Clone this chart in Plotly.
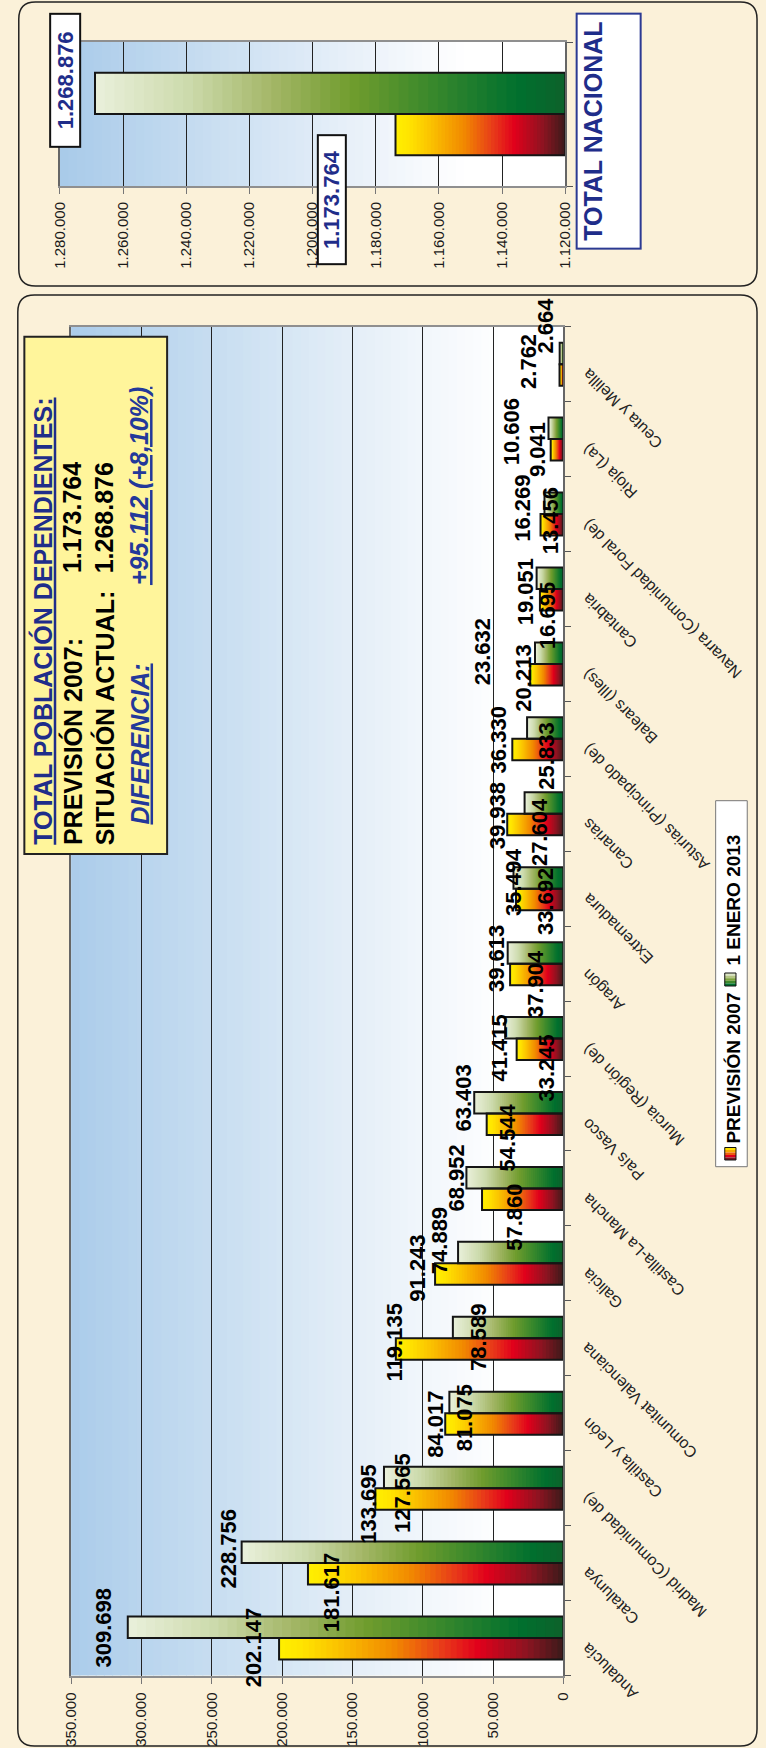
import plotly.graph_objects as go

# ---------------------------------------------------------------- data
REGIONS = [
    "Andalucía", "Catalunya", "Madrid (Comunidad de)", "Castilla y León",
    "Comunitat Valenciana", "Galicia", "Castilla-La Mancha", "País Vasco",
    "Murcia (Región de)", "Aragón", "Extremadura", "Canarias",
    "Asturias (Principado de)", "Balears (Illes)", "Cantabria",
    "Navarra (Comunidad Foral de)", "Rioja (La)", "Ceuta y Melilla",
]
PREVISION_2007 = [202147, 181617, 133695, 84017, 119135, 91243, 57860, 54544,
                  33245, 37904, 33692, 39938, 36330, 23632, 16695, 16269,
                  9041, 2762]
ENERO_2013 = [309698, 228756, 127565, 81075, 78589, 74889, 68952, 63403,
              41415, 39613, 35494, 27604, 25833, 20213, 19051, 13456,
              10606, 2664]

TOTAL_LABEL = "TOTAL NACIONAL"
TOTAL_PREVISION = 1173764
TOTAL_ACTUAL = 1268876

VALUE_TICKS = [0, 50000, 100000, 150000, 200000, 250000, 300000, 350000]
TOTAL_TICKS = [1120000, 1140000, 1160000, 1180000, 1200000, 1220000,
               1240000, 1260000, 1280000]
TOTAL_AXIS_MIN = 1120000

SERIES_NAMES = ["PREVISIÓN 2007", "1 ENERO 2013"]

# ---------------------------------------------------------------- styling
W, H = 766, 1748
FONT = "Liberation Sans, Arial, Helvetica, sans-serif"
PAGE_BG = "#FBF1D9"
NAVY = "#1F2D8A"
BLUE = "#23389A"

# where each bar label sits: right edge vs bar end (dx) and centre vs bar centre (dy), px
PREV_LABEL_DX = [-17, 32, 2, -1, 7, -9, 41, 29, 38, 34, 38, -1, -5, -39, 16, -9, -4, -22]
PREV_LABEL_DY = [-1, 18, 5, 0, -7, -6, 18, 13, 19, 10, 2, -9, -10, -23, 16, -16, 0, -13]
ENE_LABEL_DX = [-16, -5, 27, 24, 34, -10, -1, -2, 3, -2, 9, 23, 27, -3, -3, 14, -29, -6]
ENE_LABEL_DY = [0, -4, 15, 15, 10, -12, 0, -5, 20, 6, 4, 29, 28, 25, 14, 17, 4, -28]

# gradient stops, position measured from the bar base (0) to its end (1)
PREV_STOPS = [(0.0, "#3B1B1B"), (0.13, "#8C1421"), (0.30, "#E1001B"),
              (0.42, "#E8381A"), (0.60, "#F18A00"), (0.80, "#FBC400"),
              (0.92, "#FFE400"), (1.0, "#FFF000")]
ENE_STOPS = [(0.0, "#0D612B"), (0.10, "#00702E"), (0.30, "#3E8A2C"),
             (0.45, "#6F9C2D"), (0.62, "#A3B666"), (0.80, "#CCDAAB"),
             (1.0, "#EAF0DC")]
MAIN_BG_STOPS = [(0.0, "#ABCCEA"), (0.30, "#C8DEF1"), (0.55, "#E2EDF7"),
                 (0.75, "#F4F8FC"), (0.88, "#FFFFFF"), (1.0, "#FFFFFF")]
TOP_BG_STOPS = [(0.0, "#A8CAE9"), (0.30, "#C9DEF1"), (0.50, "#DFEBF7"),
                (0.65, "#F0F5FB"), (0.80, "#FFFFFF"), (1.0, "#FFFFFF")]

# plot areas in page pixels
MAIN_X0, MAIN_X1, MAIN_Y0, MAIN_Y1 = 63.5, 567.0, 326.7, 1675.5
TOP_X0, TOP_X1, TOP_Y0, TOP_Y1 = 52.0, 569.0, 42.0, 186.0
BAR_W = 0.287  # bar thickness in category units


def X(p):
    return p / W


def Y(p):
    return 1 - p / H


def hex2rgb(h):
    h = h.lstrip("#")
    return tuple(int(h[i:i + 2], 16) for i in (0, 2, 4))


def color_at(stops, t):
    for (t0, c0), (t1, c1) in zip(stops[:-1], stops[1:]):
        if t <= t1:
            f = 0 if t1 == t0 else (t - t0) / (t1 - t0)
            a, b = hex2rgb(c0), hex2rgb(c1)
            return "rgb(%d,%d,%d)" % tuple(round(a[k] + (b[k] - a[k]) * f) for k in range(3))
    return stops[-1][1]


def es_num(v):
    return f"{v:,}".replace(",", ".")


def gradient_bars(values, cats, stops, base0, offset, xa, ya, n=48):
    """Each bar is painted as overlapping slices running from a slice start to the bar end."""
    xs, ys, bases, cols = [], [], [], []
    for i in range(n):
        for v, c in zip(values, cats):
            start = base0 + (v - base0) * i / n
            xs.append(v - start)
            ys.append(c)
            bases.append(start)
            cols.append(color_at(stops, (i + 0.5) / n))
    return go.Bar(orientation="h", x=xs, y=ys, base=bases, offset=offset,
                  width=BAR_W, marker=dict(color=cols, line=dict(width=0)),
                  xaxis=xa, yaxis=ya, hoverinfo="skip", showlegend=False)


def outline_bars(values, cats, base0, offset, xa, ya, name):
    return go.Bar(orientation="h", x=[v - base0 for v in values], y=cats,
                  base=[base0] * len(values), offset=offset, width=BAR_W,
                  marker=dict(color="rgba(0,0,0,0)", line=dict(color="#151515", width=2)),
                  xaxis=xa, yaxis=ya, name=name, hoverinfo="skip", showlegend=False)


fig = go.Figure()

# main chart: regions
fig.add_trace(gradient_bars(PREVISION_2007, REGIONS, PREV_STOPS, 0, -BAR_W, "x", "y"))
fig.add_trace(gradient_bars(ENERO_2013, REGIONS, ENE_STOPS, 0, 0, "x", "y"))
fig.add_trace(outline_bars(PREVISION_2007, REGIONS, 0, -BAR_W, "x", "y", SERIES_NAMES[0]))
fig.add_trace(outline_bars(ENERO_2013, REGIONS, 0, 0, "x", "y", SERIES_NAMES[1]))

# upper chart: national total
fig.add_trace(gradient_bars([TOTAL_PREVISION], [TOTAL_LABEL], PREV_STOPS, TOTAL_AXIS_MIN, -BAR_W, "x2", "y2"))
fig.add_trace(gradient_bars([TOTAL_ACTUAL], [TOTAL_LABEL], ENE_STOPS, TOTAL_AXIS_MIN, 0, "x2", "y2"))
fig.add_trace(outline_bars([TOTAL_PREVISION], [TOTAL_LABEL], TOTAL_AXIS_MIN, -BAR_W, "x2", "y2", SERIES_NAMES[0]))
fig.add_trace(outline_bars([TOTAL_ACTUAL], [TOTAL_LABEL], TOTAL_AXIS_MIN, 0, "x2", "y2", SERIES_NAMES[1]))

shapes = []


def rounded_rect(x0, y0, x1, y1, r):
    rx, ry = r / W, r / H
    a, b, c, d = X(x0), Y(y0), X(x1), Y(y1)
    return (f"M {a + rx},{b} L {c - rx},{b} Q {c},{b} {c},{b - ry} "
            f"L {c},{d + ry} Q {c},{d} {c - rx},{d} L {a + rx},{d} "
            f"Q {a},{d} {a},{d + ry} L {a},{b - ry} Q {a},{b} {a + rx},{b} Z")


# rounded frames
for box in [(10, 2, 765, 286), (9, 295, 765, 1746)]:
    shapes.append(dict(type="path", path=rounded_rect(*box, 17), xref="paper", yref="paper",
                       line=dict(color="#222", width=1.5), fillcolor="rgba(0,0,0,0)", layer="below"))

# plot-area background gradients
NB = 60
for xa, ya, stops in [("x", "y", MAIN_BG_STOPS), ("x2", "y2", TOP_BG_STOPS)]:
    for i in range(NB):
        shapes.append(dict(type="rect", xref=f"{xa} domain", yref=f"{ya} domain",
                           x0=i / NB, x1=(i + 1) / NB + 0.002, y0=0, y1=1,
                           fillcolor=color_at(stops, (i + 0.5) / NB),
                           line=dict(width=0), layer="below"))

# summary box
shapes.append(dict(type="rect", xref="paper", yref="paper",
                   x0=X(15.7), x1=X(161.7), y0=Y(854), y1=Y(336.7),
                   fillcolor="#FFF59B", line=dict(color="#222", width=2), layer="above"))

# legend frame and swatches
shapes.append(dict(type="rect", xref="paper", yref="paper",
                   x0=X(722.7), x1=X(755), y0=Y(1166.7), y1=Y(800.7),
                   fillcolor="white", line=dict(color="#777", width=1), layer="above"))
for stops, (y0, y1) in [(PREV_STOPS, (1147.5, 1160)), (ENE_STOPS, (973, 986))]:
    k = 5
    for j in range(k):
        ya = y0 + (y1 - y0) * j / k
        yb = y0 + (y1 - y0) * (j + 1) / k
        shapes.append(dict(type="rect", xref="paper", yref="paper",
                           x0=X(732), x1=X(743.5), y0=Y(yb), y1=Y(ya),
                           fillcolor=color_at(stops, 1 - (j + 0.5) / k),
                           line=dict(width=0), layer="above"))
    shapes.append(dict(type="rect", xref="paper", yref="paper",
                       x0=X(732), x1=X(743.5), y0=Y(y1), y1=Y(y0),
                       fillcolor="rgba(0,0,0,0)", line=dict(color="#111", width=1), layer="above"))

ann = []

# region names
for c in REGIONS:
    ann.append(dict(x=0, y=c, xref="x", yref="y", text=c, textangle=-135,
                    xanchor="left", yanchor="top", xshift=13, yshift=1,
                    showarrow=False, font=dict(family=FONT, size=16, color="#222")))

# value labels next to each bar
band = (MAIN_Y1 - MAIN_Y0) / len(REGIONS)
half = band * BAR_W / 2
EDGE = 6
for i, c in enumerate(REGIONS):
    for v, dx, dy, off in [(PREVISION_2007[i], PREV_LABEL_DX[i], PREV_LABEL_DY[i], half),
                           (ENERO_2013[i], ENE_LABEL_DX[i], ENE_LABEL_DY[i], -half)]:
        ann.append(dict(x=v, y=c, xref="x", yref="y", text=f"<b>{es_num(v)}</b>",
                        textangle=-90, xanchor="right", yanchor="middle",
                        xshift=dx + EDGE, yshift=-(off + dy), showarrow=False,
                        font=dict(family=FONT, size=22, color="black")))

# national totals in framed boxes
top_half = (TOP_Y1 - TOP_Y0) * BAR_W / 2
for v, dx, dy, off, w, h in [(TOTAL_ACTUAL, -14, -13.5, -top_half, 129, 26),
                             (TOTAL_PREVISION, -49, 65, top_half, 125, 24)]:
    ann.append(dict(x=v, y=TOTAL_LABEL, xref="x2", yref="y2", text=f"<b>{es_num(v)}</b>",
                    textangle=-90, xanchor="right", yanchor="middle",
                    xshift=dx, yshift=-(off + dy), width=w, height=h,
                    bgcolor="white", bordercolor="#111", borderwidth=2, borderpad=1,
                    showarrow=False, font=dict(family=FONT, size=22, color=NAVY)))

ann.append(dict(x=X(579), y=Y(13), xref="paper", yref="paper", text=f"<b>{TOTAL_LABEL}</b>",
                textangle=-90, xanchor="left", yanchor="top", width=231, height=60,
                valign="top", bgcolor="white", bordercolor="#2B3A93", borderwidth=2,
                borderpad=1, showarrow=False, font=dict(family=FONT, size=25, color=NAVY)))

# summary text
diff = TOTAL_ACTUAL - TOTAL_PREVISION
pct = diff / TOTAL_PREVISION * 100
pct_txt = f"{pct:.2f}".replace(".", ",")
summary = [
    (34, 847, "<b><u>TOTAL POBLACIÓN DEPENDIENTES:</u></b>", NAVY, "bottom"),
    (65, 847, "<b>PREVISIÓN 2007:</b>", "black", "bottom"),
    (65, 460, f"<b>{es_num(TOTAL_PREVISION)}</b>", "black", "top"),
    (98, 847, "<b>SITUACIÓN ACTUAL:</b>", "black", "bottom"),
    (98, 460, f"<b>{es_num(TOTAL_ACTUAL)}</b>", "black", "top"),
    (133, 827, "<b><i><u>DIFERENCIA:</u></i></b>", BLUE, "bottom"),
    (133, 385, f"<b><i><u>+{es_num(diff)} (+{pct_txt}%)</u></i></b>", BLUE, "top"),
]
for px_, py_, txt, col, anchor in summary:
    ann.append(dict(x=X(px_), y=Y(py_), xref="paper", yref="paper", text=txt,
                    textangle=-90, xanchor="center", yanchor=anchor, showarrow=False,
                    font=dict(family=FONT, size=25, color=col)))

# legend text
ann.append(dict(x=X(740.5), y=Y(1146), xref="paper", yref="paper",
                text=f"<b>{SERIES_NAMES[0]}</b>", textangle=-90, xanchor="center",
                yanchor="bottom", showarrow=False, font=dict(family=FONT, size=19, color="black")))
ann.append(dict(x=X(740.5), y=Y(968), xref="paper", yref="paper",
                text=f"<b>{SERIES_NAMES[1]}</b>", textangle=-90, xanchor="center",
                yanchor="bottom", showarrow=False, font=dict(family=FONT, size=19, color="black")))

axis_common = dict(showline=True, mirror=True, zeroline=False, tickangle=-90,
                   ticks="outside", ticklen=6, tickcolor="#777",
                   tickfont=dict(family=FONT, size=15, color="#1a1a1a"),
                   showgrid=True, gridcolor="#222", gridwidth=1,
                   linecolor="#8f8f8f", linewidth=2)
cat_common = dict(type="category", side="right", showticklabels=False, ticks="outside",
                  tickson="boundaries", ticklen=6, tickcolor="#555", showline=True,
                  mirror=True, linecolor="#666", linewidth=2, showgrid=False, zeroline=False)

fig.update_layout(
    width=W, height=H, margin=dict(l=0, r=0, t=0, b=0),
    paper_bgcolor=PAGE_BG, plot_bgcolor="white", barmode="overlay",
    showlegend=False, hovermode=False, font=dict(family=FONT),
    xaxis=dict(domain=[X(MAIN_X0), X(MAIN_X1)], range=[VALUE_TICKS[-1], VALUE_TICKS[0]],
               tickvals=VALUE_TICKS, ticktext=[es_num(v) for v in VALUE_TICKS],
               anchor="y", ticklabelstandoff=3, **axis_common),
    yaxis=dict(domain=[Y(MAIN_Y1), Y(MAIN_Y0)], categoryorder="array", categoryarray=REGIONS,
               range=[-0.5, len(REGIONS) - 0.5], anchor="x", **cat_common),
    xaxis2=dict(domain=[X(TOP_X0), X(TOP_X1)], range=[TOTAL_TICKS[-1], TOTAL_TICKS[0]],
                tickvals=TOTAL_TICKS, ticktext=[es_num(v) for v in TOTAL_TICKS],
                anchor="y2", ticklabelstandoff=2, **axis_common),
    yaxis2=dict(domain=[Y(TOP_Y1), Y(TOP_Y0)], categoryorder="array", categoryarray=[TOTAL_LABEL],
                range=[-0.5, 0.5], anchor="x2", **cat_common),
    shapes=shapes, annotations=ann,
)

fig.write_html("out.html")
